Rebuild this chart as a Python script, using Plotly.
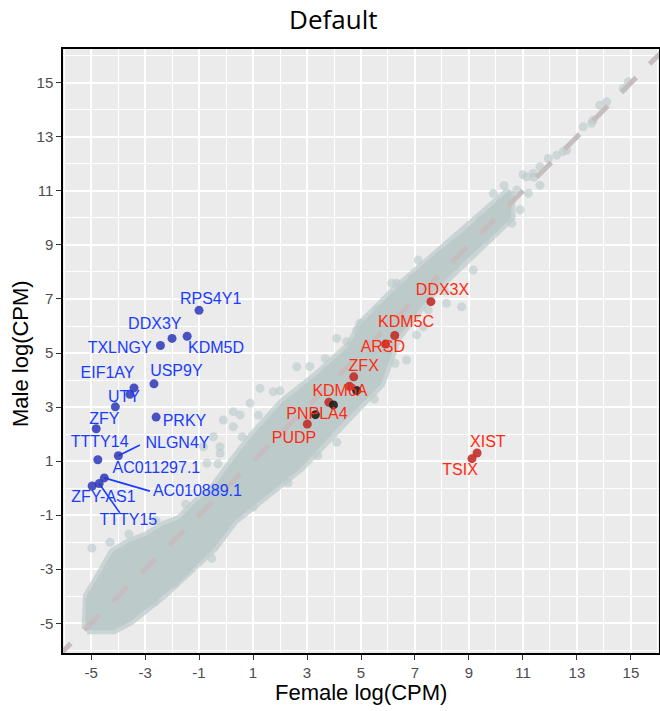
import plotly.graph_objects as go

# ---------------- data ----------------
tick_vals = [-5, -3, -1, 1, 3, 5, 7, 9, 11, 13, 15]
tick_labels = ["-5", "-3", "-1", "1", "3", "5", "7", "9", "11", "13", "15"]
minor_vals = [-6, -4, -2, 0, 2, 4, 6, 8, 10, 12, 14, 16]

# envelope of the dense cloud of genes (female, male)
cloud_x = [-5.15, -5.15, -5.10, -4.67, -4.17, -3.56, -2.94, -2.32, -1.70, -1.09, -0.47,
           0.15, 1.00, 2.12, 3.36, 4.59, 5.09, 6.32, 7.56, 8.79, 10.03, 10.50,
           10.52, 10.03, 8.79, 7.56, 6.32, 5.70, 5.21, 3.98, 2.74, 1.51, 0.27,
           -0.47, -1.09, -1.70, -2.32, -2.94, -3.56, -4.17, -5.15]
cloud_y = [-5.20, -4.10, -4.00, -3.28, -2.41, -2.04, -1.80, -1.43, -1.18, -0.56, -0.07,
           0.80, 1.90, 3.14, 4.12, 5.23, 6.10, 7.33, 8.44, 9.43, 10.54, 10.95,
           10.04, 9.55, 8.44, 7.21, 5.60, 3.88, 3.38, 2.15, 0.79, -0.19, -1.18,
           -2.17, -2.78, -3.40, -3.89, -4.39, -4.88, -5.20, -5.20]

# scattered genes outside the dense band
sparse_x = [14.90, 14.72, 14.10, 13.85, 13.60, 13.54, 13.23, 12.62, 12.49, 12.25, 11.94,
            11.63, 11.38, 11.14, 11.63, 10.77, 10.52, 10.15, 11.20, 9.71, 10.58, 9.16,
            7.12, 6.88, 6.14, 6.94, 8.17, 8.73, 7.49, 7.31, 7.06, 6.69, 6.26, 4.96,
            4.84, 4.10, 3.67, 2.62, 1.26, 1.75, 0.89, 0.27, 0.52, -0.10, 0.27, -0.47,
            -0.84, -0.22, -0.71, -0.22, -4.97, -0.53, -2.63, -1.27, 6.32, 4.47, 9.9,
            10.3, 9.4, 8.5, 11.0, 11.4, 10.9, 9.6, 8.1, 5.6, 3.1, 2.0, 1.2, 0.6,
            -0.3, -1.5, -2.6, -3.6, -4.3, 5.5, 4.1, 3.4, 2.3, 1.0, -0.2, -1.9]
sparse_y = [15.04, 14.79, 14.30, 14.17, 13.62, 13.50, 13.37, 12.51, 12.45, 12.32, 12.20,
            11.89, 11.65, 11.52, 11.21, 11.03, 10.78, 10.54, 10.91, 9.80, 9.80, 8.07,
            8.44, 7.76, 7.58, 7.76, 6.84, 6.71, 6.59, 5.97, 5.67, 4.74, 4.62, 6.10,
            5.85, 5.54, 4.80, 4.49, 3.69, 3.57, 3.14, 2.83, 2.71, 2.52, 2.27, 1.90,
            1.53, 1.53, 0.92, 1.29, -2.22, -2.60, -4.20, -2.66, 7.58, 5.42, 10.9,
            11.2, 9.9, 8.2, 11.6, 11.5, 10.3, 9.2, 7.3, 6.6, 4.5, 3.6, 2.7, 1.9,
            0.9, -0.6, -1.2, -1.7, -2.0, 3.3, 1.7, 1.2, 0.2, -0.7, -1.6, -3.5]

# male-biased (Y-linked) genes
male_genes = ["RPS4Y1", "DDX3Y", "KDM5D", "TXLNGY", "USP9Y", "EIF1AY", "", "UTY", "ZFY",
              "PRKY", "NLGN4Y", "TTTY14", "AC010889.1", "TTTY15", "ZFY-AS1", "AC011297.1"]
male_x = [-1.00, -2.00, -1.44, -2.43, -2.67, -3.41, -3.56, -4.10, -4.81, -2.59, -3.99,
          -4.75, -4.51, -4.70, -4.96, None]
male_y = [6.58, 5.54, 5.62, 5.28, 3.86, 3.71, 3.47, 3.01, 2.20, 2.63, 1.20, 1.05, 0.38,
          0.17, 0.08, None]
male_label_x = [-0.57, -2.64, -0.37, -3.94, -1.84, -4.39, None, -3.78, -4.51, -1.54, -1.80,
                -4.68, -1.06, -3.62, -4.54, -2.58]
male_label_y = [6.96, 6.04, 5.16, 5.16, 4.29, 4.22, None, 3.32, 2.52, 2.46, 1.62, 1.66,
                -0.13, -1.20, -0.38, 0.70]
# repel segments: (point index, label-side end)
seg_idx = [10, 12, 13]
seg_end_x = [-3.19, -2.82, -3.93]
seg_end_y = [1.60, -0.11, -0.92]

# female-biased / X escape genes
female_genes = ["DDX3X", "KDM5C", "ARSD", "ZFX", "KDM6A", "", "PNPLA4", "PUDP", "XIST", "TSIX"]
female_x = [7.59, 6.25, 5.91, 4.73, 4.57, 3.81, None, 3.01, 9.30, 9.11]
female_y = [6.90, 5.65, 5.33, 4.12, 3.77, 3.18, None, 2.37, 1.30, 1.09]
female_label_x = [8.02, 6.67, 5.81, 5.10, 4.22, None, 3.37, 2.52, 9.70, 8.67]
female_label_y = [7.30, 6.10, 5.20, 4.49, 3.57, None, 2.71, 1.82, 1.68, 0.63]

# other highlighted genes (black)
other_x = [4.84, 3.98, 3.31]
other_y = [3.61, 3.08, 2.72]

diag = [-6.3, 16.5]

# ---------------- figure ----------------
fig = go.Figure()

# soft fringe of the cloud
fig.add_trace(go.Scatter(x=cloud_x, y=cloud_y, mode="lines",
                         line=dict(color="rgba(190,203,203,0.7)", width=11),
                         hoverinfo="skip"))
fig.add_trace(go.Scatter(x=sparse_x, y=sparse_y, mode="markers",
                         marker=dict(size=9, color="rgba(190,204,204,0.65)", line=dict(width=0)),
                         hoverinfo="skip"))
fig.add_trace(go.Scatter(x=cloud_x, y=cloud_y, mode="lines", fill="toself",
                         fillcolor="rgb(189,202,202)",
                         line=dict(color="rgb(189,202,202)", width=3),
                         hoverinfo="skip"))

fig.add_trace(go.Scatter(x=diag, y=diag, mode="lines",
                         line=dict(color="rgb(198,190,190)", width=5, dash="21px,19px"),
                         hoverinfo="skip"))

# repel segments
for i, ex, ey in zip(seg_idx, seg_end_x, seg_end_y):
    fig.add_trace(go.Scatter(x=[male_x[i], ex], y=[male_y[i], ey], mode="lines",
                             line=dict(color="#1a3cff", width=1.6), hoverinfo="skip"))

fig.add_trace(go.Scatter(x=male_x, y=male_y, mode="markers",
                         marker=dict(size=9, color="rgba(45,55,185,0.85)"), hoverinfo="skip"))
fig.add_trace(go.Scatter(x=female_x, y=female_y, mode="markers",
                         marker=dict(size=9, color="rgba(195,40,35,0.88)"), hoverinfo="skip"))
fig.add_trace(go.Scatter(x=other_x, y=other_y, mode="markers",
                         marker=dict(size=9, color="rgba(30,30,30,0.9)"), hoverinfo="skip"))

fig.add_trace(go.Scatter(x=male_label_x, y=male_label_y, text=male_genes, mode="text",
                         textfont=dict(family="Liberation Sans, Arial", size=16, color="#1a3cff"),
                         hoverinfo="skip"))
fig.add_trace(go.Scatter(x=female_label_x, y=female_label_y, text=female_genes, mode="text",
                         textfont=dict(family="Liberation Sans, Arial", size=16, color="#ff2a10"),
                         hoverinfo="skip"))

axis_common = dict(
    tickmode="array", tickvals=tick_vals, ticktext=tick_labels,
    showgrid=True, gridcolor="white", gridwidth=1.5,
    minor=dict(tickmode="array", tickvals=minor_vals, showgrid=True,
               gridcolor="white", gridwidth=0.7, ticks=""),
    ticks="outside", ticklen=5, tickwidth=1.2, tickcolor="#333333",
    tickfont=dict(family="Liberation Sans, Arial", size=15, color="#4d4d4d"),
    showline=True, linecolor="black", linewidth=1.5, mirror=True,
    zeroline=False, automargin=False,
)

fig.update_layout(
    width=660, height=711,
    margin=dict(l=63, r=1, t=49, b=58),
    paper_bgcolor="white", plot_bgcolor="#ebebeb",
    showlegend=False,
    title=dict(text="Default", x=0.505, xref="container", xanchor="center",
               y=1 - 20 / 711, yref="container", yanchor="middle",
               font=dict(family="Open Sans", size=26, color="black")),
    xaxis=dict(range=[-6.04, 16.04], **axis_common),
    yaxis=dict(range=[-6.1, 16.25], **axis_common),
    annotations=[
        dict(text="Female log(CPM)", xref="paper", yref="paper", x=0.50, y=-40 / 604,
             xanchor="center", yanchor="middle", showarrow=False,
             font=dict(family="Liberation Sans, Arial", size=22, color="black")),
        dict(text="Male log(CPM)", xref="paper", yref="paper", x=(20 - 63) / 596,
             y=(653 - 353) / 604, xanchor="center", yanchor="middle", showarrow=False,
             textangle=-90,
             font=dict(family="Liberation Sans, Arial", size=22, color="black")),
    ],
)

fig.write_html("out.html", config={"displayModeBar": False},
               post_script="document.body.style.margin='0';")
